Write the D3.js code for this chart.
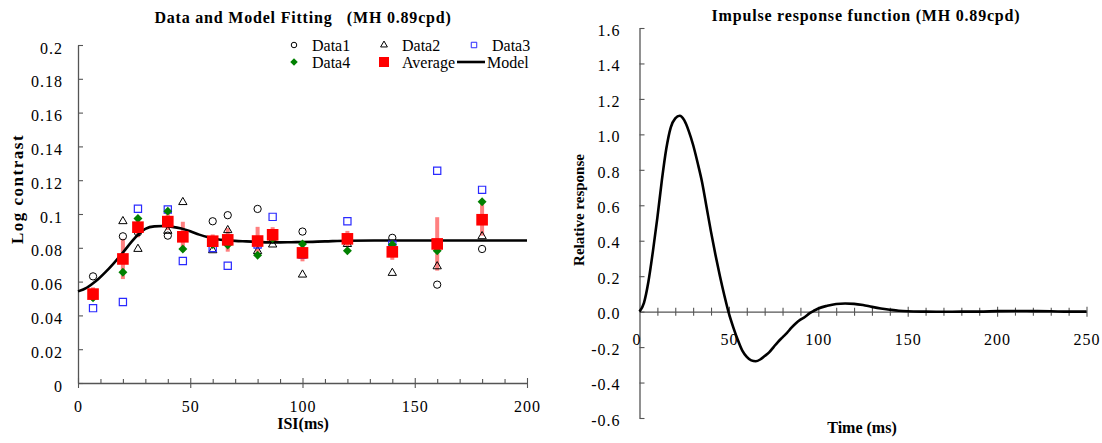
<!DOCTYPE html>
<html><head><meta charset="utf-8">
<script src="https://cdn.jsdelivr.net/npm/d3@7"></script>
<style>
body{margin:0;background:#fff;}
svg, svg text{font-family:'Liberation Serif','Times New Roman',Times,serif;}
</style></head><body>
<svg id="chart" width="1102" height="443"></svg>
<script>
// ---------- Left chart data ----------
const isi      = [6.7, 20, 26.7, 40, 46.7, 60, 66.7, 80, 86.7, 100, 120, 140, 160, 180];
const data1    = [0.0631, 0.0868, 0.0891, 0.0872, 0.0875, 0.0957, 0.0993, 0.1030, 0.0851, 0.0896, 0.0850, 0.0859, 0.0582, 0.0793];
const data2    = [0.0525, 0.0957, 0.0793, 0.0900, 0.1070, 0.0785, 0.0904, 0.0780, 0.0819, 0.0641, 0.0822, 0.0651, 0.0690, 0.0868];
const data3    = [0.0443, 0.0479, 0.1031, 0.1027, 0.0722, 0.0799, 0.0694, 0.0819, 0.0983, 0.0760, 0.0957, 0.0819, 0.1256, 0.1143];
const data4    = [0.0505, 0.0655, 0.0973, 0.1017, 0.0793, 0.0819, 0.0817, 0.0756, 0.0855, 0.0823, 0.0783, 0.0819, 0.0783, 0.1072];
const average  = [0.0526, 0.0734, 0.0922, 0.0955, 0.0865, 0.0839, 0.0847, 0.0840, 0.0877, 0.0770, 0.0853, 0.0776, 0.0823, 0.0966];
const errSem   = [0.0040, 0.0119, 0.0060, 0.0050, 0.0089, 0.0040, 0.0070, 0.0084, 0.0045, 0.0050, 0.0047, 0.0047, 0.0158, 0.0094];
const modelX   = [0, 4, 8, 12, 16, 20, 24, 27, 30, 34, 38, 42, 46, 50, 54, 58, 62, 66, 70, 75, 80, 85, 90, 95, 100, 110, 120, 140, 160, 180, 200];
const modelY   = [0.0542, 0.0565, 0.0603, 0.0653, 0.0710, 0.0772, 0.0838, 0.0882, 0.0912, 0.0927, 0.0929, 0.0924, 0.0914, 0.0898, 0.0878, 0.0862, 0.0851, 0.0845, 0.0841, 0.0838, 0.0835, 0.0832, 0.0832, 0.0833, 0.0834, 0.0838, 0.0842, 0.0843, 0.0843, 0.0843, 0.0843];
const leftXTicks = [0, 50, 100, 150, 200];
const leftYTicks = [0, 0.02, 0.04, 0.06, 0.08, 0.1, 0.12, 0.14, 0.16, 0.18, 0.2];

// ---------- Right chart data ----------
const impT = [0, 2.5, 5, 7.5, 10, 12.5, 15, 17.5, 20, 22.5, 25, 27.5, 30, 32.5, 35, 37.5, 40, 42.5, 45, 47.5, 50, 52.5, 55, 57.5, 60, 62.5, 65, 67.5, 70, 72.5, 75, 77.5, 80, 82.5, 85, 87.5, 90, 92.5, 95, 97.5, 100, 105, 110, 115, 120, 125, 130, 135, 140, 145, 150, 160, 170, 180, 190, 200, 210, 220, 230, 240, 250];
const impV = [0, 0.05, 0.17, 0.34, 0.53, 0.74, 0.92, 1.04, 1.09, 1.105, 1.08, 1.02, 0.94, 0.84, 0.73, 0.59, 0.45, 0.32, 0.20, 0.09, -0.01, -0.09, -0.16, -0.22, -0.255, -0.275, -0.28, -0.27, -0.25, -0.23, -0.20, -0.17, -0.145, -0.12, -0.09, -0.065, -0.045, -0.03, -0.01, 0.005, 0.018, 0.033, 0.043, 0.046, 0.044, 0.037, 0.027, 0.018, 0.011, 0.005, 0.002, 0, -0.001, 0, 0, 0.003, 0.004, 0.003, 0.002, 0, 0];
const rightXTicks = [0, 50, 100, 150, 200, 250];
const rightYTicks = [-0.6, -0.4, -0.2, 0, 0.2, 0.4, 0.6, 0.8, 1.0, 1.2, 1.4, 1.6];

const FONT = "'Liberation Serif','Times New Roman',Times,serif";
const AXIS_COLOR = '#555';
const svg = d3.select('#chart');

function styleAxis(g) {
  g.attr('font-family', null).attr('font-size', 16);
  g.selectAll('.domain').attr('stroke', AXIS_COLOR).attr('stroke-width', 1.3);
  g.selectAll('.tick line').attr('stroke', AXIS_COLOR).attr('stroke-width', 1.1);
  g.selectAll('.tick text').attr('fill', '#000').style('font-family', FONT).style('font-size', '16px').attr('letter-spacing', '1px');
}

// =================== LEFT CHART ===================
const xL = d3.scaleLinear().domain([0, 200]).range([78, 527]);
const yL = d3.scaleLinear().domain([0, 0.2]).range([383, 45]);

const gxL = svg.append('g').attr('transform', `translate(0,${yL(0)})`)
  .call(d3.axisBottom(xL).tickValues(d3.range(0, 201, 10)).tickSizeInner(-4).tickSizeOuter(0).tickPadding(18)
    .tickFormat(d => leftXTicks.includes(d) ? d : ''));
styleAxis(gxL);
gxL.selectAll('.tick').filter(d => leftXTicks.includes(d)).select('line').attr('y1', 5).attr('y2', -5);
gxL.selectAll('.tick text').attr('y', 18).attr('dy', '0.71em');

const gyL = svg.append('g').attr('transform', `translate(${xL(0)},0)`)
  .call(d3.axisLeft(yL).tickValues(leftYTicks).tickSizeInner(-5).tickSizeOuter(0).tickPadding(15)
    .tickFormat(d => String(+d.toFixed(2))));
styleAxis(gyL);
gyL.selectAll('.tick text').attr('dy', '0.5em');

// error bars
const gErr = svg.append('g');
isi.forEach((t, i) => {
  gErr.append('rect')
    .attr('x', xL(t) - 2).attr('width', 4)
    .attr('y', yL(average[i] + errSem[i]))
    .attr('height', yL(average[i] - errSem[i]) - yL(average[i] + errSem[i]))
    .attr('fill', '#FF8080');
});

// model
svg.append('path')
  .datum(modelX.map((x, i) => [x, modelY[i]]))
  .attr('fill', 'none').attr('stroke', '#000').attr('stroke-width', 2.6)
  .attr('d', d3.line().x(d => xL(d[0])).y(d => yL(d[1])).curve(d3.curveMonotoneX));

const diamond = {draw(ctx, size) { const r = Math.sqrt(size / 2); ctx.moveTo(0, -r); ctx.lineTo(r, 0); ctx.lineTo(0, r); ctx.lineTo(-r, 0); ctx.closePath(); }};

function plotSeries(vals, type, size, fill, stroke, sw) {
  svg.append('g').selectAll('path').data(vals).join('path')
    .attr('transform', (d, i) => `translate(${xL(isi[i])},${yL(d)})`)
    .attr('d', d3.symbol().type(type).size(size))
    .attr('fill', fill).attr('stroke', stroke).attr('stroke-width', sw);
}
plotSeries(data1, d3.symbolCircle, 42, 'none', '#000', 1);
plotSeries(data2, d3.symbolTriangle, 30, 'none', '#000', 1);
plotSeries(data3, d3.symbolSquare, 52, 'none', '#2a2aff', 1.2);
plotSeries(data4, diamond, 40, '#008000', 'none', 0);
plotSeries(average, d3.symbolSquare, 135, '#FF0000', 'none', 0);

// legend
const leg = svg.append('g').attr('font-size', 16);
const legItems = [
  {label: 'Data1', x: 294, y: 45, sym: d3.symbolCircle, size: 24, fill: 'none', stroke: '#000'},
  {label: 'Data2', x: 384, y: 45, sym: d3.symbolTriangle, size: 20, fill: 'none', stroke: '#000'},
  {label: 'Data3', x: 474, y: 45, sym: d3.symbolSquare, size: 30, fill: 'none', stroke: '#2a2aff'},
  {label: 'Data4', x: 294, y: 62, sym: diamond, size: 28, fill: '#008000', stroke: 'none'},
  {label: 'Average', x: 384, y: 62, sym: d3.symbolSquare, size: 100, fill: '#FF0000', stroke: 'none'}
];
legItems.forEach(it => {
  leg.append('path').attr('transform', `translate(${it.x},${it.y})`)
    .attr('d', d3.symbol().type(it.sym).size(it.size))
    .attr('fill', it.fill).attr('stroke', it.stroke).attr('stroke-width', 1);
  leg.append('text').attr('x', it.x + 18).attr('y', it.y).attr('dy', '0.35em').text(it.label);
});
leg.append('line').attr('x1', 457).attr('x2', 485).attr('y1', 62).attr('y2', 62).attr('stroke', '#000').attr('stroke-width', 2.6);
leg.append('text').attr('x', 487).attr('y', 62).attr('dy', '0.35em').text('Model');

// titles
svg.append('text').attr('x', 303).attr('y', 23).attr('text-anchor', 'middle')
  .attr('font-weight', 'bold').attr('font-size', 16).attr('letter-spacing', '0.8px')
  .style('white-space', 'pre').text('Data and Model Fitting   (MH 0.89cpd)');
svg.append('text').attr('x', 303).attr('y', 429).attr('text-anchor', 'middle')
  .attr('font-weight', 'bold').attr('font-size', 16).text('ISI(ms)');
svg.append('text').attr('transform', 'translate(23,189) rotate(-90)').attr('text-anchor', 'middle')
  .attr('font-weight', 'bold').attr('font-size', 17).attr('letter-spacing', '1.5px').text('Log contrast');

// =================== RIGHT CHART ===================
const xR = d3.scaleLinear().domain([0, 250]).range([639.5, 1086.5]);
const yR = d3.scaleLinear().domain([-0.6, 1.6]).range([418, 28]);

const gyR = svg.append('g').attr('transform', `translate(${xR(0)},0)`)
  .call(d3.axisLeft(yR).tickValues(rightYTicks).tickSizeInner(-5).tickSizeOuter(0).tickPadding(19)
    .tickFormat(d => (Math.abs(d) < 1e-9 ? 0 : d).toFixed(1)));
styleAxis(gyR);
gyR.selectAll('.tick text').attr('dy', '0.45em');

const gxR = svg.append('g').attr('transform', `translate(0,${yR(0)})`)
  .call(d3.axisBottom(xR).tickValues(d3.range(0, 251, 10)).tickSizeInner(4).tickSizeOuter(0).tickPadding(18)
    .tickFormat(d => rightXTicks.includes(d) ? d : ''));
styleAxis(gxR);
gxR.selectAll('.tick line').attr('y1', -4).attr('y2', 4);
gxR.selectAll('.tick').filter(d => rightXTicks.includes(d) && d > 0).select('line').attr('y1', -5).attr('y2', 5);
gxR.selectAll('.tick').filter(d => d === 0).select('line').remove();
gxR.selectAll('.tick').filter(d => d === 0).select('text').attr('x', -3);

svg.append('path')
  .datum(impT.map((t, i) => [t, impV[i]]))
  .attr('fill', 'none').attr('stroke', '#000').attr('stroke-width', 2.6)
  .attr('d', d3.line().x(d => xR(d[0])).y(d => yR(d[1])).curve(d3.curveMonotoneX));

svg.append('text').attr('x', 866).attr('y', 21).attr('text-anchor', 'middle')
  .attr('font-weight', 'bold').attr('font-size', 16).attr('letter-spacing', '0.8px')
  .text('Impulse response function (MH 0.89cpd)');
svg.append('text').attr('x', 862).attr('y', 433).attr('text-anchor', 'middle')
  .attr('font-weight', 'bold').attr('font-size', 16).text('Time (ms)');
svg.append('text').attr('transform', 'translate(584,210) rotate(-90)').attr('text-anchor', 'middle')
  .attr('font-weight', 'bold').attr('font-size', 15).text('Relative response');
</script>
</body></html>
